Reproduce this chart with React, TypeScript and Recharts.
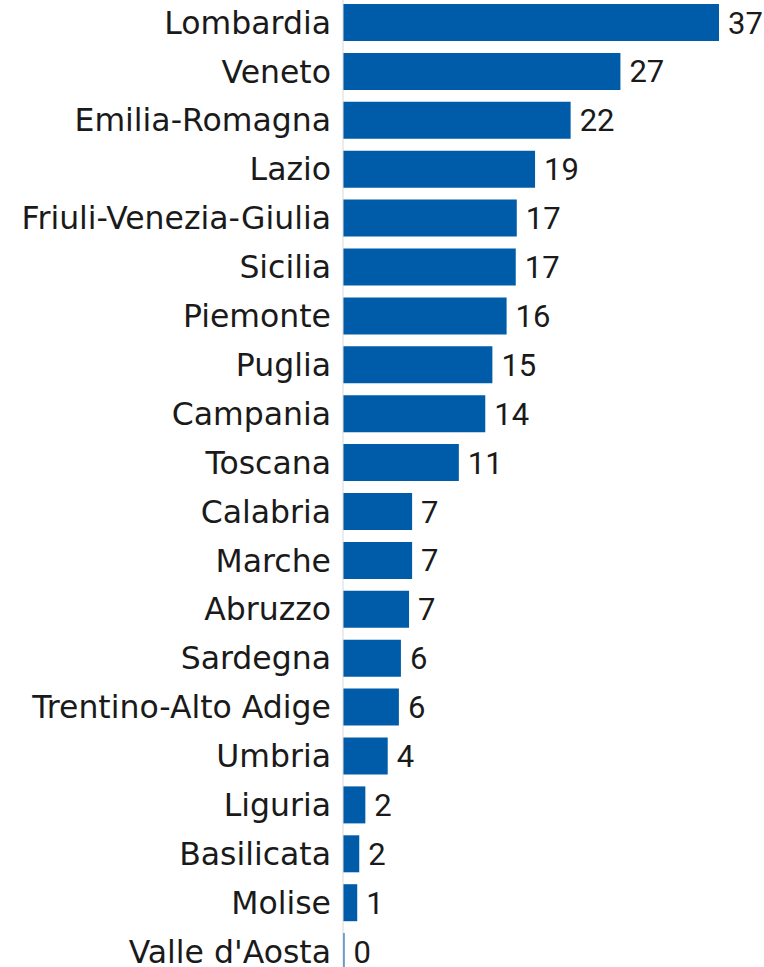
import { BarChart, Bar, XAxis, YAxis, LabelList } from 'recharts';

const regions = [
  'Lombardia', 'Veneto', 'Emilia-Romagna', 'Lazio', 'Friuli-Venezia-Giulia',
  'Sicilia', 'Piemonte', 'Puglia', 'Campania', 'Toscana',
  'Calabria', 'Marche', 'Abruzzo', 'Sardegna', 'Trentino-Alto Adige',
  'Umbria', 'Liguria', 'Basilicata', 'Molise', "Valle d'Aosta",
];

// values; labels show them rounded
const values = [
  37, 27.3, 22.4, 18.9, 17.1,
  17.0, 16.1, 14.7, 14.0, 11.4,
  6.8, 6.8, 6.5, 5.7, 5.5,
  4.4, 2.2, 1.6, 1.4, 0.15,
];

const data = regions.map((name, i) => ({ name, value: values[i] }));

export default function App() {
  return (
    <div style={{ position: 'absolute', left: 0, top: -2 }}>
      <BarChart
        width={764}
        height={978}
        data={data}
        layout="vertical"
        margin={{ top: 0, right: 45, bottom: 0, left: 0 }}
        barSize={37}
      >
        <XAxis type="number" domain={[0, 37]} hide />
        <YAxis
          type="category"
          dataKey="name"
          width={343}
          interval={0}
          tickLine={false}
          tickMargin={6}
          axisLine={{ stroke: '#d9d9d9', strokeWidth: 1 }}
          tick={{ fill: '#1a1a1a', fontSize: 31.5, fontFamily: '"DejaVu Sans", sans-serif' }}
        />
        <Bar dataKey="value" fill="#005CA9" isAnimationActive={false}>
          <LabelList
            dataKey="value"
            position="right"
            offset={9}
            formatter={(v: any) => Math.round(Number(v))}
            style={{ fill: '#1a1a1a', fontSize: 31, fontFamily: 'Roboto, sans-serif' }}
          />
        </Bar>
      </BarChart>
    </div>
  );
}
